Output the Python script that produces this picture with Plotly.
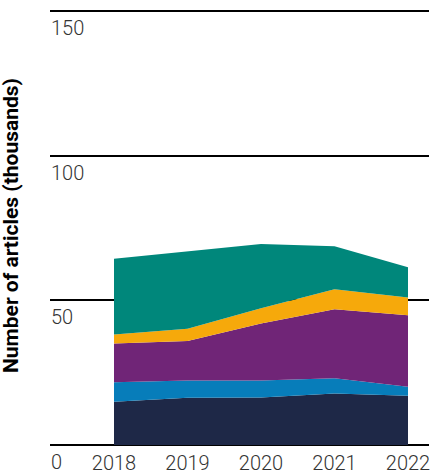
import plotly.graph_objects as go

# Publication counts by year (thousands), stacked bottom to top
years = [2018, 2019, 2020, 2021, 2022]
series_names = ["Series A", "Series B", "Series C", "Series D", "Series E"]
navy_vals = [14.9, 16.3, 16.4, 17.8, 17.0]
blue_vals = [6.8, 6.0, 5.9, 5.3, 3.1]
purple_vals = [13.4, 13.6, 19.7, 23.8, 24.7]
yellow_vals = [3.1, 4.3, 5.3, 6.9, 6.2]
teal_vals = [26.2, 26.7, 22.2, 14.9, 10.4]
y_ticks = [0, 50, 100, 150]

colors = ["#1e2847", "#077dba", "#702577", "#f6a90b", "#00877b"]
values = [navy_vals, blue_vals, purple_vals, yellow_vals, teal_vals]

fig = go.Figure()
for name, vals, col in zip(series_names, values, colors):
    fig.add_trace(go.Scatter(
        x=years, y=vals, name=name, stackgroup="one",
        mode="lines", line=dict(width=0, color=col),
        fillcolor=col, hoverinfo="x+y",
    ))

W, H = 446, 475
ml, mr, mt, mb = 50, 17, 9, 28
plot_h = H - mt - mb
y_lo, y_hi = -0.7, 150.7

# y tick labels sit just under each gridline, left aligned
annotations = []
for v in y_ticks:
    annotations.append(dict(
        x=0, xref="paper", y=v, yref="y", text=str(v),
        xanchor="left", yanchor="top", yshift=-3, xshift=-1,
        showarrow=False, font=dict(family="Roboto", size=20, color="#333333", weight=300),
    ))

annotations.append(dict(
    x=-39 / (W - ml - mr), xref="paper",
    y=(H - mb - 226) / plot_h, yref="paper",
    text="<b>Number of articles (thousands)</b>", textangle=-90,
    xanchor="center", yanchor="middle", showarrow=False,
    font=dict(family="Roboto", size=21, color="#000000"),
))

fig.update_layout(
    width=W, height=H,
    margin=dict(l=ml, r=mr, t=mt, b=mb, autoexpand=False),
    paper_bgcolor="white", plot_bgcolor="white",
    showlegend=False,
    annotations=annotations,
    xaxis=dict(
        range=[2018 - 64 / 73.5, 2022 + 21 / 73.5],
        tickvals=years, ticktext=[str(y) for y in years],
        showgrid=False, zeroline=False, showline=False, ticks="",
        ticklabelstandoff=2, automargin=False,
        tickfont=dict(family="Roboto", size=20, color="#333333", weight=300),
    ),
    yaxis=dict(
        range=[y_lo, y_hi], tickvals=y_ticks, showticklabels=False,
        showgrid=True, gridcolor="#000000", gridwidth=2,
        zeroline=False, showline=False, ticks="", automargin=False,
    ),
)

fig.write_html("out.html")
